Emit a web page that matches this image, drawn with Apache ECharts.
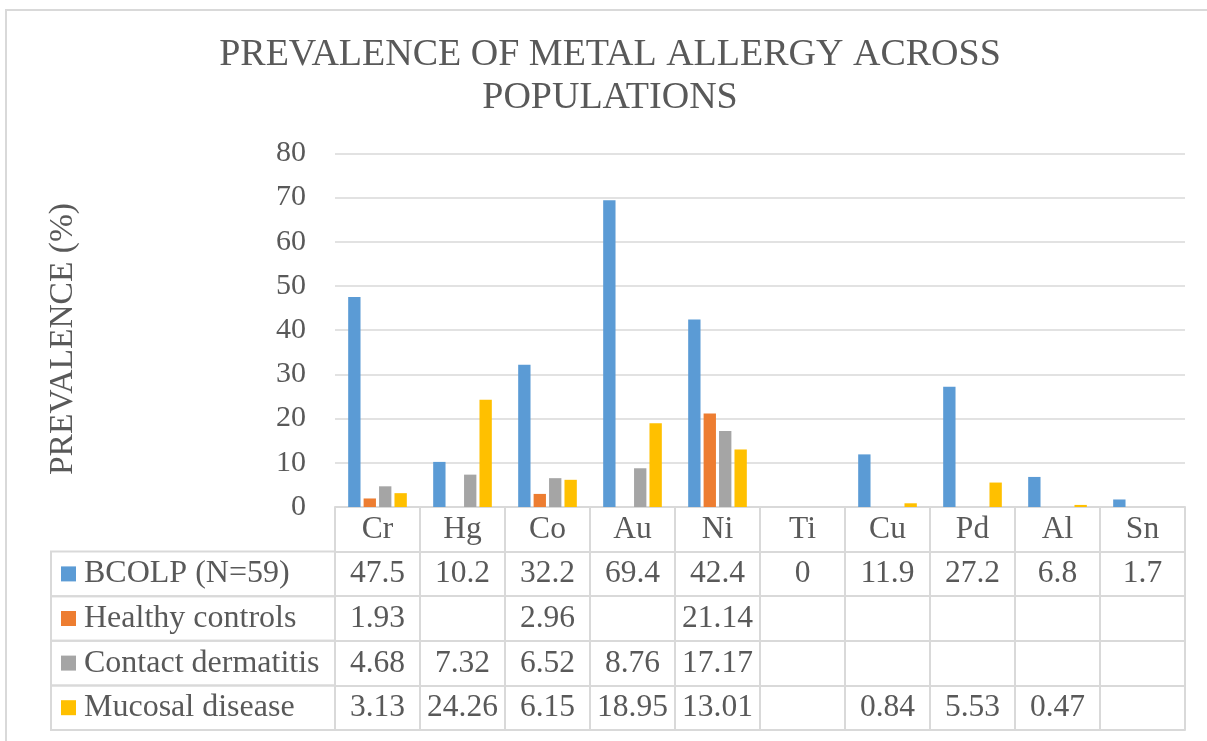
<!DOCTYPE html>
<html>
<head>
<meta charset="utf-8">
<script src="https://cdn.jsdelivr.net/npm/echarts@6/dist/echarts.min.js"></script>
<style>
  html, body { margin: 0; padding: 0; background: #ffffff; }
  #chart { width: 1207px; height: 741px; }
</style>
</head>
<body>
<div id="chart"></div>
<script>
// ---- data ----
const categories = ['Cr', 'Hg', 'Co', 'Au', 'Ni', 'Ti', 'Cu', 'Pd', 'Al', 'Sn'];
const seriesNames = ['BCOLP (N=59)', 'Healthy controls', 'Contact dermatitis', 'Mucosal disease'];
const bcolp      = [47.5, 10.2, 32.2, 69.4, 42.4, 0, 11.9, 27.2, 6.8, 1.7];
const healthy    = [1.93, null, 2.96, null, 21.14, null, null, null, null, null];
const contact    = [4.68, 7.32, 6.52, 8.76, 17.17, null, null, null, null, null];
const mucosal    = [3.13, 24.26, 6.15, 18.95, 13.01, null, 0.84, 5.53, 0.47, null];
const yTicks = { min: 0, max: 80, interval: 10 };
const colors = ['#5B9BD5', '#ED7D31', '#A5A5A5', '#FFC000'];

// ---- layout ----
const W = 1207, H = 741;
const FONT = '"Liberation Serif", "Times New Roman", serif';
const TXT = '#595959';
const LINE = '#d9d9d9';
const gridLeft = 335, gridRight = 22, gridTop = 153.3, gridBottom = 234;
const rowH = 44.6;
const tableLeft = 51;
const axisY = H - gridBottom;
const tableFont = 31.5;

const seriesData = [bcolp, healthy, contact, mucosal];

const chart = echarts.init(document.getElementById('chart'), null, { renderer: 'canvas' });

// x axes: header row + one row per series + bottom closing line
const xAxes = [];
xAxes.push({
  type: 'category', data: categories, position: 'bottom', offset: 0,
  axisLine: { show: true, lineStyle: { color: LINE, width: 2 } },
  axisTick: { show: true, interval: 0, length: rowH, lineStyle: { color: LINE, width: 2 } },
  axisLabel: { interval: 0, margin: 7, fontSize: tableFont, lineHeight: 31, color: TXT, fontFamily: FONT },
  splitLine: { show: false }
});
seriesData.forEach((arr, k) => {
  xAxes.push({
    type: 'category', data: categories, position: 'bottom', offset: rowH * (k + 1),
    axisLine: { show: true, lineStyle: { color: LINE, width: 2 } },
    axisTick: { show: true, interval: 0, length: rowH, lineStyle: { color: LINE, width: 2 } },
    axisLabel: {
      interval: 0, margin: 7, fontSize: tableFont, lineHeight: 31, color: TXT, fontFamily: FONT,
      formatter: (v, i) => (arr[i] === null || arr[i] === undefined) ? '' : String(arr[i])
    },
    splitLine: { show: false }
  });
});
xAxes.push({
  type: 'category', data: categories, position: 'bottom', offset: rowH * 5,
  axisLine: { show: true, lineStyle: { color: LINE, width: 2 } },
  axisTick: { show: false }, axisLabel: { show: false }, splitLine: { show: false }
});

// left legend column cells
const cellGraphics = [];
for (let k = 0; k < 4; k++) {
  cellGraphics.push({
    type: 'rect',
    shape: { x: tableLeft, y: axisY + rowH * (k + 1), width: gridLeft - tableLeft, height: rowH },
    style: { fill: null, stroke: LINE, lineWidth: 2 },
    silent: true
  });
}

const option = {
  backgroundColor: '#ffffff',
  animation: false,
  title: {
    text: 'PREVALENCE OF METAL ALLERGY ACROSS\nPOPULATIONS',
    left: 610, top: 34, textAlign: 'center', padding: 0,
    textStyle: { fontFamily: FONT, fontSize: 38, lineHeight: 43, fontWeight: 'normal', color: TXT }
  },
  legend: {
    data: seriesNames,
    orient: 'vertical', left: 61, top: axisY + rowH, padding: 0, itemGap: 0,
    itemWidth: 15, itemHeight: 15, icon: 'rect', selectedMode: false,
    textStyle: { fontFamily: FONT, fontSize: 32, lineHeight: rowH, color: TXT, padding: [0, 0, 0, 3] }
  },
  grid: { left: gridLeft, right: gridRight, top: gridTop, bottom: gridBottom, containLabel: false, outerBoundsMode: 'none' },
  xAxis: xAxes,
  yAxis: {
    type: 'value', min: yTicks.min, max: yTicks.max, interval: yTicks.interval,
    axisLine: { show: false }, axisTick: { show: false },
    axisLabel: { margin: 29, fontSize: 30, color: TXT, fontFamily: FONT },
    splitLine: { show: true, lineStyle: { color: LINE, width: 1.5 } }
  },
  series: seriesNames.map((name, k) => ({
    name, type: 'bar', xAxisIndex: 0, data: seriesData[k],
    itemStyle: { color: colors[k] },
    barGap: '25%', barCategoryGap: '31%'
  })),
  graphic: [
    {
      type: 'rect', shape: { x: 6, y: 10, width: 1220, height: 760 },
      style: { fill: null, stroke: LINE, lineWidth: 2 }, silent: true, z: -1
    },
    {
      type: 'text', x: 63, y: 339, rotation: Math.PI / 2,
      style: { text: 'PREVALENCE (%)', fontFamily: FONT, fontSize: 33.5, fill: TXT, textAlign: 'center', textVerticalAlign: 'middle' },
      silent: true
    }
  ].concat(cellGraphics)
};
chart.setOption(option);
</script>
</body>
</html>
